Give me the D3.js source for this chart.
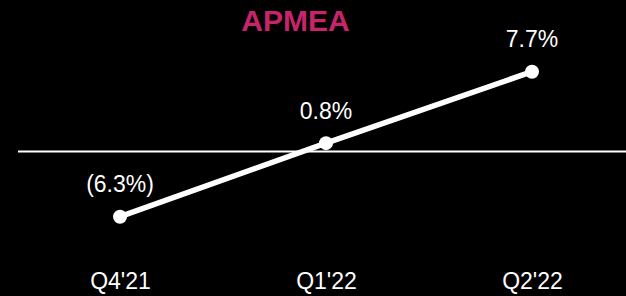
<!DOCTYPE html>
<html>
<head>
<meta charset="utf-8">
<script src="https://cdn.jsdelivr.net/npm/d3@7"></script>
<style>
  html, body { margin: 0; padding: 0; background: #000; }
  svg { display: block; }
</style>
</head>
<body>
<div id="chart"></div>
<script>
let quarters = ["Q4'21", "Q1'22", "Q2'22"];
let growth = [-6.3, 0.8, 7.7];
let growthLabels = ["(6.3%)", "0.8%", "7.7%"];

let width = 626,
height = 296;

let x = d3.scalePoint()
.domain(quarters)
.range([120, 532]);

let y = d3.scaleLinear()
.domain([-6.3, 7.7])
.range([216.7, 71.7]);

let svg = d3.select("#chart").append("svg")
.attr("width", width)
.attr("height", height)
.style("background", "#000");

svg.append("text")
.attr("x", 295.5)
.attr("y", 31)
.attr("text-anchor", "middle")
.style("font-family", "Liberation Sans, Arial, sans-serif")
.style("font-weight", "bold")
.style("font-size", "30px")
.style("fill", "#C8246C")
.text("APMEA");

// zero line
svg.append("line")
.attr("x1", 18)
.attr("x2", width)
.attr("y1", y(0))
.attr("y2", y(0))
.style("stroke", "#fff")
.style("stroke-width", 2);

let data = quarters.map((q, i) => ({ q: q, v: growth[i], label: growthLabels[i] }));

let line = d3.line()
.x(d => x(d.q))
.y(d => y(d.v));

svg.append("path")
.datum(data)
.attr("d", line)
.style("fill", "none")
.style("stroke", "#fff")
.style("stroke-width", 5.5);

svg.selectAll("circle")
.data(data)
.enter()
.append("circle")
.attr("cx", d => x(d.q))
.attr("cy", d => y(d.v))
.attr("r", 7)
.style("fill", "#fff");

svg.selectAll(".val")
.data(data)
.enter()
.append("text")
.classed("val", true)
.attr("x", d => x(d.q))
.attr("y", d => y(d.v) - 24.5)
.attr("text-anchor", "middle")
.style("font-family", "Liberation Sans, Arial, sans-serif")
.style("font-size", "23px")
.style("fill", "#fff")
.text(d => d.label);

let xAxis = d3.axisBottom(x).tickSize(0).tickPadding(0);

let gx = svg.append("g")
.attr("transform", "translate(0,289)")
.call(xAxis);

gx.select(".domain").remove();
gx.selectAll("text")
.attr("dy", 0)
.attr("y", 0)
.style("font-family", "Liberation Sans, Arial, sans-serif")
.style("font-size", "23px")
.style("fill", "#fff");
</script>
</body>
</html>
